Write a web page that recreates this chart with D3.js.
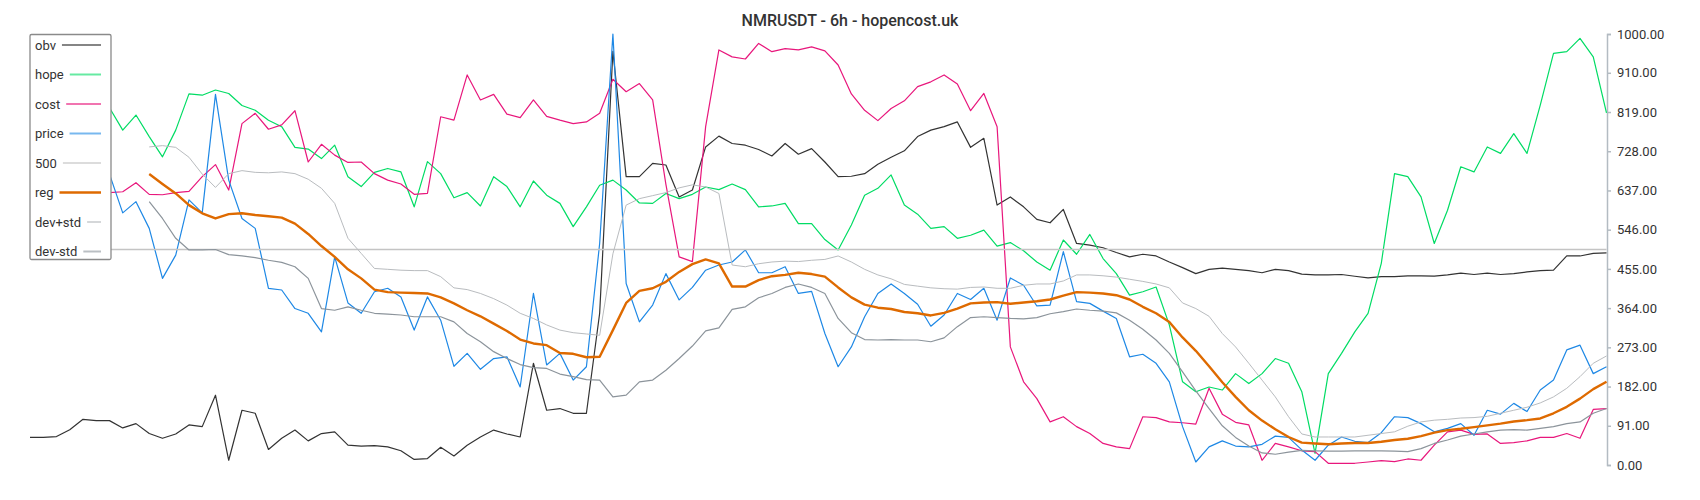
<!DOCTYPE html>
<html>
<head>
<meta charset="utf-8">
<script src="https://cdn.jsdelivr.net/npm/d3@7"></script>
<style>
  body { margin: 0; background: #fff; font-family: Roboto, "Noto Sans", sans-serif; }
</style>
</head>
<body>
<script>
// Data (one value per 6h candle):
const obv = [64, 64, 66, 82, 106, 103, 103, 86, 96, 73, 62, 72, 93, 89, 162, 11, 127, 120,
  36, 62, 81, 56, 73, 77, 46, 44, 45, 42, 33, 13, 15, 41, 21, 46,
  65,
  81, 72, 65, 236, 127, 131, 120, 120, 352, 960, 669, 669, 700, 696, 622, 638, 738,
  763, 746, 742, 732, 717, 746, 721, 734, 703, 669, 670, 676, 698, 714, 729, 762, 777, 785,
  796, 737, 758, 603, 622, 599, 570, 562, 593, 514, 510, 504, 493, 483, 489, 485, 471,
  458, 444, 454, 457, 454, 451, 446, 454, 451, 443, 441, 441, 442, 438, 434, 437, 437, 439,
  439, 438, 441, 445, 442, 445, 442, 444, 448, 451, 452, 485, 485, 491, 492];

const hope = [820, 800, 845, 830, 790, 815, 829, 777, 812, 762, 715, 777, 861, 858, 870, 862, 834, 823,
  800, 785, 737, 733, 711, 742, 669, 646, 679, 688, 680, 599, 704, 676, 620, 632,
  601,
  669, 646, 599, 659, 626, 607, 553, 599, 649, 661, 638, 608, 607, 630, 618, 628, 645,
  639, 652, 639, 599, 601, 607, 560, 560, 523, 499, 557, 626, 642, 673, 603, 582, 549, 553,
  526, 533, 545, 508, 516, 497, 471, 452, 522, 489, 535, 479, 444, 394, 402, 413, 325,
  193, 170, 181, 174, 212, 189, 212, 247, 236, 170, 27, 212, 259, 309, 352, 468, 676, 669,
  622, 514, 591, 692, 680, 738, 723, 769, 723, 835, 955, 959, 990, 947, 817];

const cost = [645, 640, 625, 635, 650, 640, 632, 634, 655, 628, 627, 632, 635, 669, 697, 638, 792, 816,
  779, 789, 822, 703, 744, 719, 702, 703, 676, 661, 652, 628, 630, 808, 800, 905,
  847,
  860, 814, 806, 847, 809, 800, 792, 796, 816, 895, 866, 885, 847, 651, 483, 472, 785,
  963, 947, 942, 978, 959, 966, 963, 970, 961, 928, 861, 823, 799, 827, 845, 878, 889, 905,
  884, 822, 862, 785, 274, 193, 154, 100, 112, 89, 73, 50, 42, 38, 112, 110, 100,
  98, 95, 178, 118, 99, 93, 11, 50, 42, 33, 31, 4, 4, 4, 7, 10, 8, 14,
  11, 46, 77, 81, 71, 72, 50, 52, 56, 64, 64, 73, 62, 129, 131];

const price = [700, 690, 660, 680, 700, 690, 675, 585, 611, 549, 433, 487, 615, 585, 860, 661, 572, 549,
  410, 406, 363, 352, 309, 483, 376, 352, 402, 410, 390, 313, 390, 336, 229, 259,
  222,
  247, 251, 181, 398, 232, 259, 197, 228, 514, 1000, 421, 332, 371, 444, 383, 412, 452,
  464, 471, 499, 446, 446, 460, 398, 403, 305, 228, 274, 344, 398, 420, 398, 373, 322, 348,
  398, 384, 410, 336, 434, 417, 369, 371, 495, 379, 375, 357, 340, 251, 257, 236, 193,
  89, 7, 42, 56, 44, 42, 48, 67, 64, 35, 11, 46, 65, 55, 52, 75, 112, 110,
  96, 77, 85, 96, 69, 127, 118, 143, 124, 174, 197, 267, 278, 212, 228];

// Rolling series start a few candles later:
const smoothStart = 9;

const reg = [675, 652, 630, 603, 584, 572, 582, 584, 580,
  577, 574, 560, 536, 508, 483, 454, 433, 407, 401, 400, 399, 398, 389, 375, 359,
  345,
  328, 311, 291, 282, 278, 260, 258, 250, 251, 313, 376, 404, 410, 425, 448, 466, 477,
  468, 414, 414, 429, 438, 441, 446, 443, 437, 412, 389, 372, 365, 362, 355, 352, 347, 353,
  363, 375, 377, 378, 374, 377, 380, 384, 393, 401, 400, 398, 394, 384, 367, 352, 332,
  296, 265, 229, 192, 158, 127, 103, 83, 65, 52, 50, 48, 50, 51, 51, 54, 58, 61,
  67, 75, 81, 84, 88, 92, 96, 101, 104, 108, 120, 135, 154, 176, 193];

const devPlus = [738, 741, 737, 714, 675, 644, 676, 683, 679,
  678, 680, 676, 663, 642, 607, 526, 491, 456, 454, 452, 451, 451, 437, 411, 407,
  398,
  386, 371, 352, 340, 325, 313, 307, 304, 301, 490, 603, 618, 625, 632, 643, 650, 645,
  630, 464, 460, 467, 471, 473, 472, 475, 477, 485, 471, 454, 441, 432, 419, 415, 411, 409,
  408, 412, 413, 410, 410, 417, 420, 420, 427, 441, 441, 439, 436, 431, 426, 420, 411,
  376, 363, 345, 305, 274, 236, 197, 158, 112, 72, 65, 65, 65, 65, 69, 73, 77, 90,
  100, 104, 106, 109, 110, 113, 120, 127, 134, 144, 158, 178, 205, 236, 253];

const devMinus = [611, 572, 526, 499, 499, 500, 488, 485, 481,
  475, 470, 460, 433, 363, 359, 367, 359, 352, 350, 348, 344, 344, 344, 332, 305,
  286,
  263, 247, 233, 226, 224, 211, 205, 198, 197, 158, 162, 193, 197, 220, 247, 276, 311,
  318, 361, 367, 388, 398, 412, 420, 412, 398, 340, 307, 291, 290, 291, 290, 290, 286, 295,
  321, 342, 344, 342, 340, 339, 342, 351, 356, 362, 359, 357, 353, 336, 315, 290, 259,
  216, 172, 131, 91, 64, 44, 28, 25, 30, 34, 33, 32, 32, 33, 33, 33, 32, 31,
  38, 50, 58, 67, 72, 77, 81, 82, 81, 85, 89, 96, 100, 120, 131];

const level = 500;
const yTicks = [0, 91, 182, 273, 364, 455, 546, 637, 728, 819, 910, 1000];
const legendNames = ["obv", "hope", "cost", "price", "500", "reg", "dev+std", "dev-std"];

// Variable setup:
const width = 1700;
const height = 500;
const plotLeft = 30;
const plotRight = 1607;
const plotTop = 34;
const plotBottom = 465;

const styles = {
  obv: { color: "#333333", w: 1.2 },
  hope: { color: "#00dc64", w: 1.2 },
  cost: { color: "#e8177c", w: 1.2 },
  price: { color: "#1e88e5", w: 1.2 },
  "500": { color: "#c4c4c4", w: 1.6 },
  reg: { color: "#de6a00", w: 2.4 },
  "dev+std": { color: "#b9bcbf", w: 1 },
  "dev-std": { color: "#8c949b", w: 1.2 },
};

// Adding Canvas:
const svg = d3
  .select("body")
  .append("svg")
  .attr("width", width)
  .attr("height", height)
  .style("font-family", "Roboto, 'Noto Sans', sans-serif");

// Adding title:
svg
  .append("text")
  .attr("x", width / 2)
  .attr("y", 26)
  .attr("text-anchor", "middle")
  .style("font-size", "16px")
  .style("font-weight", 500)
  .style("fill", "#333")
  .text("NMRUSDT - 6h - hopencost.uk");

// Scales:
const xScale = d3
  .scaleLinear()
  .domain([0, price.length - 1])
  .range([plotLeft, plotRight - 0.5]);

const yScale = d3
  .scaleLinear()
  .domain([0, 1000])
  .range([plotBottom, plotTop]);

// Adding y-axis (right side):
const yAxis = d3
  .axisRight(yScale)
  .tickValues(yTicks)
  .tickSize(4)
  .tickPadding(6)
  .tickFormat(d3.format(".2f"));

const axisG = svg
  .append("g")
  .attr("transform", `translate(${plotRight}, 0)`)
  .call(yAxis);
axisG.selectAll("path, line").attr("stroke", "#b3bbc2").attr("stroke-width", 1.5);
axisG
  .selectAll("text")
  .style("font-size", "13px")
  .style("font-family", "Roboto, 'Noto Sans', sans-serif")
  .style("fill", "#333");

// Adding the lines:
const line = d3
  .line()
  .x((d) => xScale(d[0]))
  .y((d) => yScale(d[1]));

const toPoints = (arr, start) => arr.map((v, i) => [i + start, v]);

const series = [
  { name: "obv", pts: toPoints(obv, 0) },
  { name: "hope", pts: toPoints(hope, 0) },
  { name: "cost", pts: toPoints(cost, 0) },
  { name: "price", pts: toPoints(price, 0) },
  { name: "500", pts: [[0, level], [price.length - 1, level]] },
  { name: "reg", pts: toPoints(reg, smoothStart) },
  { name: "dev+std", pts: toPoints(devPlus, smoothStart) },
  { name: "dev-std", pts: toPoints(devMinus, smoothStart) },
];

svg
  .append("g")
  .selectAll("path")
  .data(series)
  .enter()
  .append("path")
  .attr("d", (d) => line(d.pts))
  .attr("fill", "none")
  .attr("stroke", (d) => styles[d.name].color)
  .attr("stroke-width", (d) => styles[d.name].w)
  .attr("stroke-linejoin", "round");

// Adding legend:
const legend = svg.append("g").attr("id", "legend");

legend
  .append("rect")
  .attr("x", 30)
  .attr("y", 34.5)
  .attr("width", 81)
  .attr("height", 225)
  .attr("rx", 1.5)
  .attr("fill", "#fff")
  .attr("stroke", "#8a8a8a")
  .attr("stroke-width", 1.3);

const items = legend
  .selectAll(".item")
  .data(legendNames)
  .enter()
  .append("g")
  .attr("class", "item")
  .attr("transform", (d, i) => `translate(35, ${45 + i * 29.5})`);

items
  .append("text")
  .attr("y", 4.5)
  .style("font-size", "13px")
  .style("fill", "#333")
  .text((d) => d);

items.each(function (d) {
  const g = d3.select(this);
  const tw = g.select("text").node().getComputedTextLength();
  g.append("line")
    .attr("x1", tw + 6)
    .attr("x2", 66)
    .attr("y1", 0)
    .attr("y2", 0)
    .attr("stroke", styles[d].color)
    .attr("stroke-opacity", d === "reg" ? 1 : 0.6)
    .attr("stroke-width", d === "reg" ? 2.5 : 2);
});
</script>
</body>
</html>
